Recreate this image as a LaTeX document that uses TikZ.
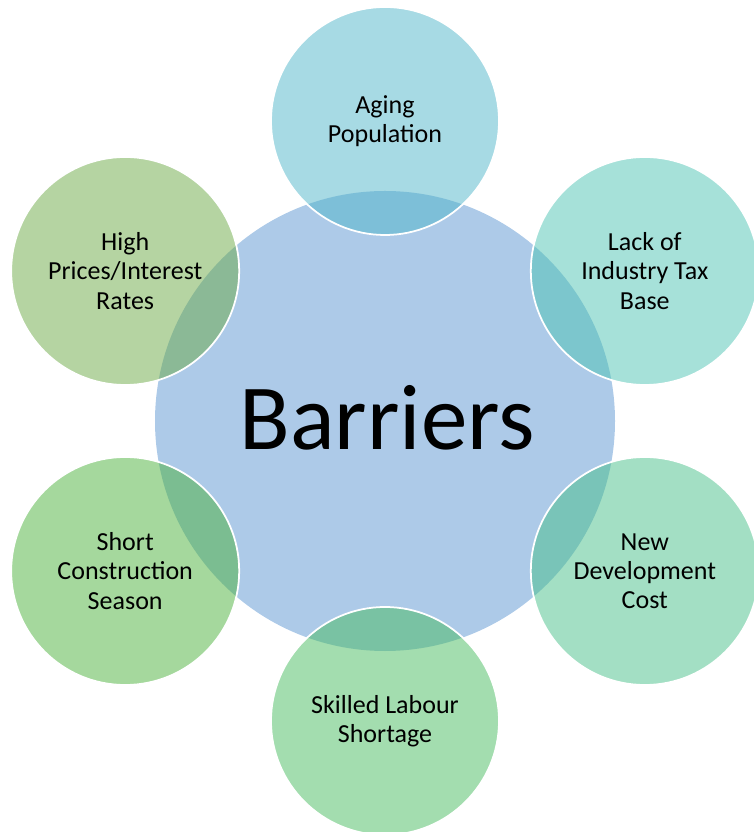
\documentclass[tikz,border=0pt]{standalone}
\usepackage{fontspec}
\setmainfont{Carlito}

\definecolor{hubblue}{RGB}{173,202,232}
\definecolor{agingcol}{RGB}{79,181,201}
\definecolor{taxcol}{RGB}{77,195,179}
\definecolor{costcol}{RGB}{71,191,137}
\definecolor{labourcol}{RGB}{71,187,95}
\definecolor{seasoncol}{RGB}{75,177,59}
\definecolor{pricecol}{RGB}{107,169,69}

\tikzset{
  hub/.style={circle, fill=hubblue, minimum size=9.2cm, inner sep=0pt,
    font=\fontsize{53}{60}\selectfont},
  barrier/.style={circle, draw=white, line width=1pt, fill=#1,
    fill opacity=0.5, text opacity=1, minimum size=4.56cm, inner sep=0pt,
    align=center, font=\fontsize{14.8}{16.6}\selectfont},
}

\begin{document}
\begin{tikzpicture}
        \useasboundingbox (-7.7,-8.22) rectangle (7.38,8.42);
        % centre circle
        \node[hub] (barriers) at (0,0) {};
        \node (title) at (0.04,0.06) {\fontsize{53}{60}\selectfont Barriers};
        % six satellites around it
        \node[barrier=agingcol] (aging) at (90:6) {Aging\\Population};
        \node[barrier=taxcol] (tax) at (30:6) {Lack of\\Industry Tax\\Base};
        \node[barrier=costcol] (cost) at (-30:6) {New\\Development\\Cost};
        \node[barrier=labourcol] (labour) at (-90:6) {Skilled Labour\\Shortage};
        \node[barrier=seasoncol] (season) at (-150:6) {Short\\Construction\\Season};
        \node[barrier=pricecol] (prices) at (150:6) {High\\Prices/Interest\\Rates};
      \end{tikzpicture}
\end{document}
